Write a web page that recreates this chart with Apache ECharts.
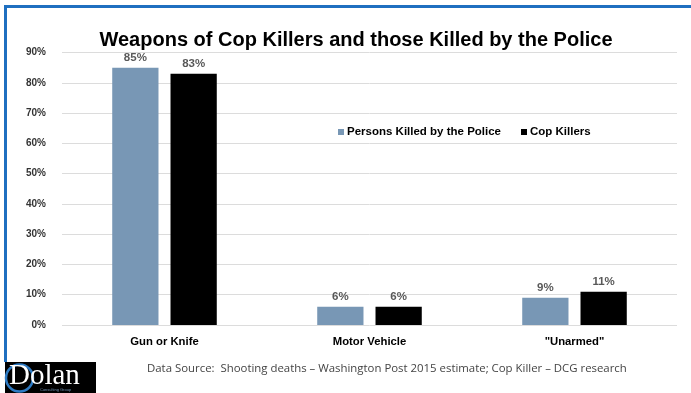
<!DOCTYPE html>
<html>
<head>
<meta charset="utf-8">
<style>
  html, body { margin: 0; padding: 0; background: #ffffff; }
  #chart { width: 691px; height: 393px; }
</style>
<script src="https://cdn.jsdelivr.net/npm/echarts@6/dist/echarts.min.js"></script>
</head>
<body>
<div id="chart"></div>
<script>
// Weapon categories and the share of each group using them (%)
const categories = ['Gun or Knife', 'Motor Vehicle', '"Unarmed"'];
const killedByPolice = [85, 6, 9];
const copKillers = [83, 6, 11];
const seriesNames = ['Persons Killed by the Police', 'Cop Killers'];
const yTicks = { min: 0, max: 90, step: 10 };
const sourceNote = 'Data Source:  Shooting deaths \u2013 Washington Post 2015 estimate; Cop Killer \u2013 DCG research';

const chart = echarts.init(document.getElementById('chart'), null, { renderer: 'canvas' });

const boldFont = 'Liberation Sans, Arial, sans-serif';

const barLabel = {
  show: true,
  position: 'top',
  distance: 4,
  formatter: p => p.value + '%',
  color: '#595959',
  fontFamily: boldFont,
  fontWeight: 'bold',
  fontSize: 11.5
};

chart.setOption({
  animation: false,
  backgroundColor: '#ffffff',
  title: {
    text: 'Weapons of Cop Killers and those Killed by the Police',
    left: 351,
    textAlign: 'center',
    top: 25,
    textStyle: {
      fontFamily: boldFont,
      fontWeight: 'bold',
      fontSize: 20,
      color: '#000000'
    }
  },
  legend: {
    data: seriesNames,
    left: 333,
    top: 121,
    icon: 'rect',
    itemWidth: 6,
    itemHeight: 6,
    itemGap: 20,
    textStyle: {
      fontFamily: boldFont,
      fontWeight: 'bold',
      fontSize: 11.5,
      color: '#000000',
      padding: [0, 0, 0, -2]
    }
  },
  grid: { left: 62, right: 14, top: 52.5, bottom: 68 },
  xAxis: {
    type: 'category',
    data: categories,
    axisLine: { show: false },
    axisTick: { show: false },
    axisLabel: {
      margin: 11,
      color: '#000000',
      fontFamily: boldFont,
      fontWeight: 'bold',
      fontSize: 11.3
    }
  },
  yAxis: {
    type: 'value',
    min: yTicks.min,
    max: yTicks.max,
    interval: yTicks.step,
    axisLine: { show: false },
    axisTick: { show: false },
    axisLabel: {
      formatter: '{value}%',
      margin: 16,
      color: '#333333',
      fontFamily: boldFont,
      fontWeight: 'bold',
      fontSize: 10
    },
    splitLine: { lineStyle: { color: '#dcdcdc', width: 1 } }
  },
  series: [
    {
      name: seriesNames[0],
      type: 'bar',
      data: killedByPolice,
      barGap: '26%',
      barCategoryGap: '49%',
      itemStyle: { color: '#7897b5' },
      label: barLabel
    },
    {
      name: seriesNames[1],
      type: 'bar',
      data: copKillers,
      itemStyle: { color: '#000000' },
      label: barLabel
    }
  ],
  graphic: [
    // slide frame: blue rule along the top and left edge
    { type: 'rect', shape: { x: 4, y: 5, width: 687, height: 3 }, style: { fill: '#1f6fc0' }, silent: true },
    { type: 'rect', shape: { x: 4, y: 5, width: 3, height: 357 }, style: { fill: '#1f6fc0' }, silent: true },
    // source note
    {
      type: 'text', left: 147, top: 363,
      style: {
        text: sourceNote,
        font: '11.4px "Open Sans", "Noto Sans", sans-serif',
        fill: '#444444'
      }
    },
    // Dolan logo block
    { type: 'rect', shape: { x: 5, y: 362, width: 91, height: 31 }, style: { fill: '#000000' }, silent: true },
    { type: 'circle', shape: { cx: 19.5, cy: 378, r: 13.5 }, style: { fill: 'none', stroke: '#2e7bc4', lineWidth: 2.5 }, silent: true },
    {
      type: 'text', left: 9, top: 362,
      style: {
        text: 'Dolan',
        font: '29px "Liberation Serif", "DejaVu Serif", serif',
        fill: '#ffffff'
      }
    },
    {
      type: 'text', left: 40, top: 388,
      style: {
        text: 'Consulting Group',
        font: '4px "Liberation Sans", sans-serif',
        fill: '#6f8fb0'
      }
    }
  ]
});
</script>
</body>
</html>
